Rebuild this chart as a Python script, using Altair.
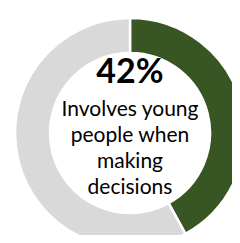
import altair as alt
import pandas as pd

categories = ["Involves young people when making decisions", "Other"]
values = [42, 58]
colors = ["#375623", "#D9D9D9"]
big_label = "42%"
desc_lines = ["Involves young", "people when", "making", "decisions"]

df = pd.DataFrame({"category": categories, "value": values, "order": [0, 1]})

arc = alt.Chart(df).mark_arc(outerRadius=115, innerRadius=80, stroke="white", strokeWidth=2.5).encode(
    theta=alt.Theta("value:Q", stack=True),
    order=alt.Order("order:Q"),
    color=alt.Color("category:N", scale=alt.Scale(domain=categories, range=colors), legend=None),
    x=alt.value(122),
    y=alt.value(125),
)

big = alt.Chart(pd.DataFrame({"t": [big_label]})).mark_text(
    font="Lato", fontSize=34, fontWeight="bold", color="black", align="center", baseline="alphabetic"
).encode(text="t:N", x=alt.value(122), y=alt.value(75))

desc = alt.Chart(pd.DataFrame({"t": [desc_lines]})).mark_text(
    font="Lato", fontSize=21, color="black", align="center", baseline="alphabetic", lineHeight=26
).encode(text="t", x=alt.value(122), y=alt.value(108))

chart = alt.layer(arc, big, desc).properties(
    width=224, height=227, padding=0, autosize=alt.AutoSizeParams(type="none")
).configure_view(stroke=None)

chart.save("out.html", embed_options={"renderer": "svg", "actions": False})
